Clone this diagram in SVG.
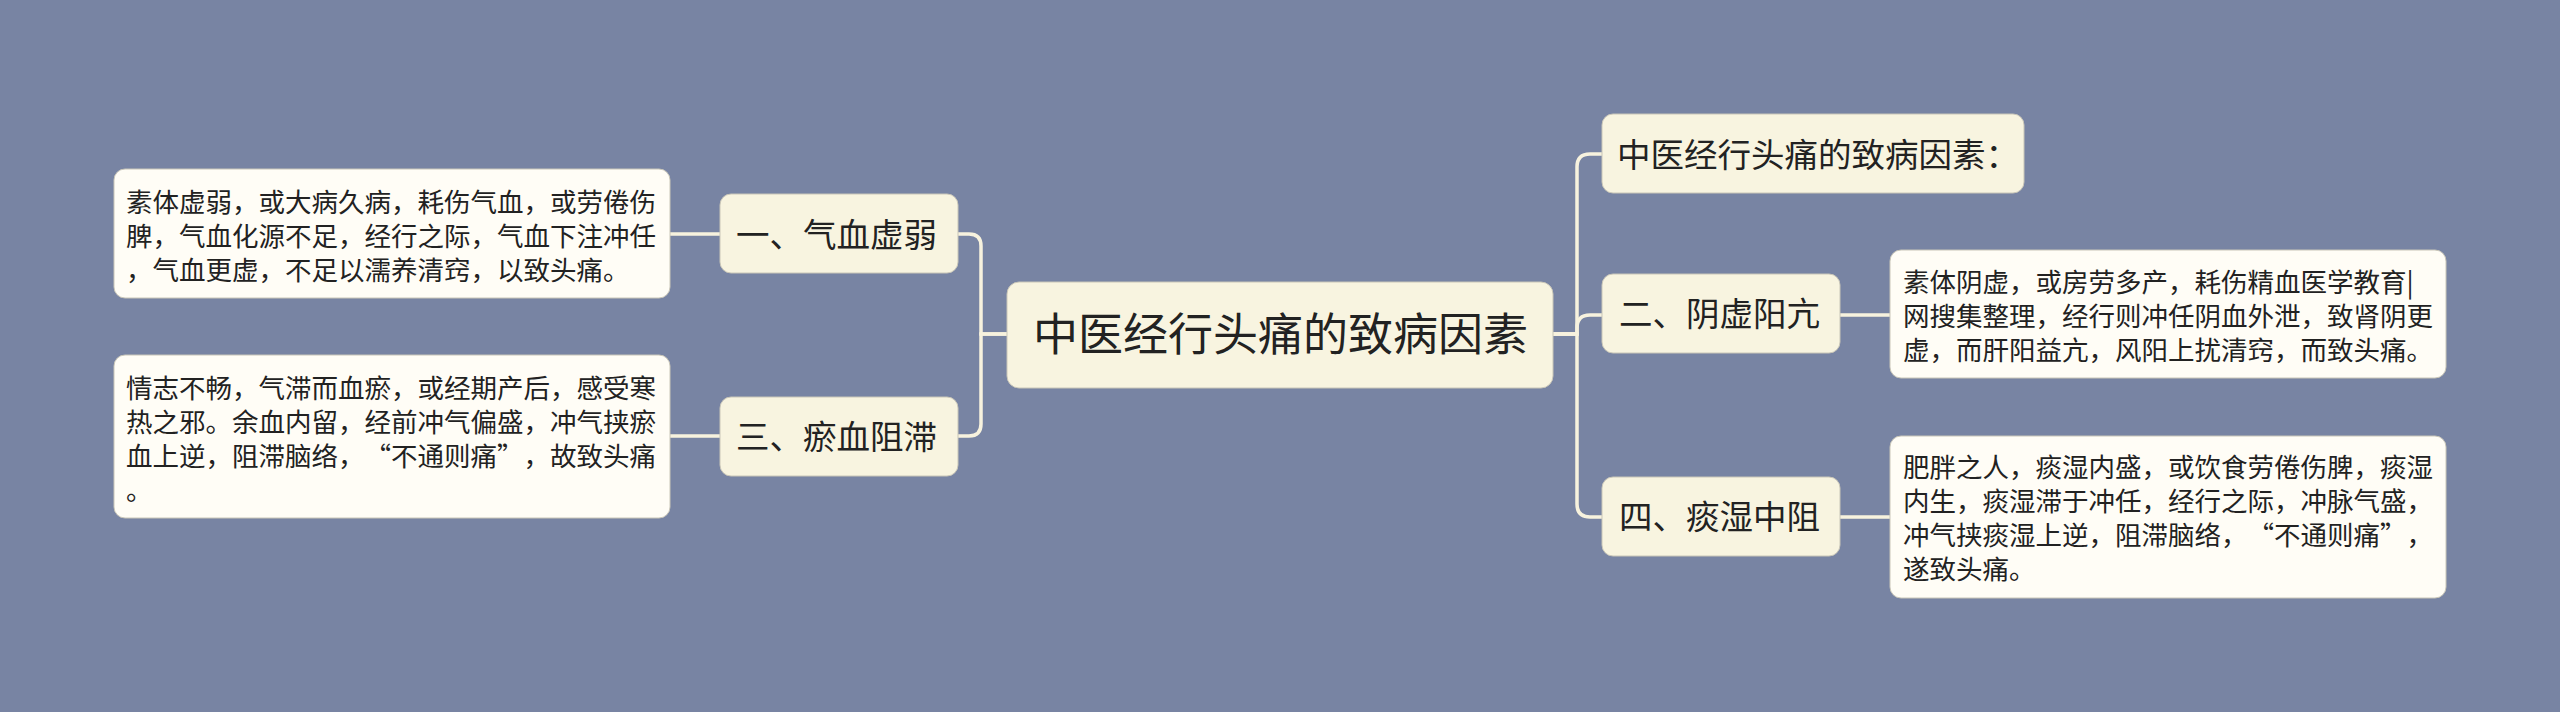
<svg xmlns="http://www.w3.org/2000/svg" width="2560" height="712" viewBox="0 0 2560 712">
<style>
.bg{fill:#7884a3}
.node{fill:#f8f4e0;stroke:#c9c6b8;stroke-width:1}
.leaf{fill:#fffdf6;stroke:#c9c6b8;stroke-width:1}
.conn{fill:none;stroke:#f7f2de;stroke-width:3.5;stroke-linecap:round}
text{font-family:"Noto Sans CJK SC","Noto Sans",sans-serif;fill:#222222}
.t-root{font-size:45px}
.t-main{font-size:33.5px}
.t-leaf{font-size:26.5px}
</style>
<rect class="bg" x="0" y="0" width="2560" height="712"/>
<g id="connectors">
<path class="conn" d="M1007 334 H981 V246 Q981 234 969 234 H958"/>
<path class="conn" d="M1007 334 H981 V424 Q981 436 969 436 H958"/>
<path class="conn" d="M670 234 H720"/>
<path class="conn" d="M670 436 H720"/>
<path class="conn" d="M1553 334 H1577 V167 Q1577 154 1590 154 H1602"/>
<path class="conn" d="M1553 334 H1577 V328 Q1577 315 1590 315 H1602"/>
<path class="conn" d="M1553 334 H1577 V504 Q1577 517 1590 517 H1602"/>
<path class="conn" d="M1840 315 H1890"/>
<path class="conn" d="M1840 517 H1890"/>
</g>
<g id="root">
<rect class="node" x="1007" y="282" width="546" height="106" rx="12"/>
<text class="t-root" x="1033" y="351">中医经行头痛的致病因素</text>
</g>
<g id="n1">
<rect class="node" x="720" y="194" width="238" height="79" rx="11"/>
<text class="t-main" x="736" y="247">一、气血虚弱</text>
</g>
<g id="n1-leaf">
<rect class="leaf" x="114" y="169" width="556" height="129" rx="11"/>
<text class="t-leaf" x="126" y="212">素体虚弱，或大病久病，耗伤气血，或劳倦伤</text>
<text class="t-leaf" x="126" y="246">脾，气血化源不足，经行之际，气血下注冲任</text>
<text class="t-leaf" x="126" y="280">，气血更虚，不足以濡养清窍，以致头痛。</text>
</g>
<g id="n3">
<rect class="node" x="720" y="397" width="238" height="79" rx="11"/>
<text class="t-main" x="736" y="449">三、瘀血阻滞</text>
</g>
<g id="n3-leaf">
<rect class="leaf" x="114" y="355" width="556" height="163" rx="11"/>
<text class="t-leaf" x="126" y="398">情志不畅，气滞而血瘀，或经期产后，感受寒</text>
<text class="t-leaf" x="126" y="432">热之邪。余血内留，经前冲气偏盛，冲气挟瘀</text>
<text class="t-leaf" x="126" y="466">血上逆，阻滞脑络，<tspan x="364.5">“</tspan><tspan x="391">不通则痛</tspan><tspan x="497">”</tspan><tspan x="523.5">，故致头痛</tspan></text>
<text class="t-leaf" x="126" y="500">。</text>
</g>
<g id="n0">
<rect class="node" x="1602" y="114" width="422" height="79" rx="11"/>
<text class="t-main" x="1617" y="167">中医经行头痛的致病因素：</text>
</g>
<g id="n2">
<rect class="node" x="1602" y="274" width="238" height="79" rx="11"/>
<text class="t-main" x="1619" y="326">二、阴虚阳亢</text>
</g>
<g id="n2-leaf">
<rect class="leaf" x="1890" y="250" width="556" height="128" rx="11"/>
<text class="t-leaf" x="1903" y="292">素体阴虚，或房劳多产，耗伤精血医学教育|</text>
<text class="t-leaf" x="1903" y="326">网搜集整理，经行则冲任阴血外泄，致肾阴更</text>
<text class="t-leaf" x="1903" y="360">虚，而肝阳益亢，风阳上扰清窍，而致头痛。</text>
</g>
<g id="n4">
<rect class="node" x="1602" y="477" width="238" height="79" rx="11"/>
<text class="t-main" x="1619" y="529">四、痰湿中阻</text>
</g>
<g id="n4-leaf">
<rect class="leaf" x="1890" y="436" width="556" height="162" rx="11"/>
<text class="t-leaf" x="1903" y="477">肥胖之人，痰湿内盛，或饮食劳倦伤脾，痰湿</text>
<text class="t-leaf" x="1903" y="511">内生，痰湿滞于冲任，经行之际，冲脉气盛，</text>
<text class="t-leaf" x="1903" y="545">冲气挟痰湿上逆，阻滞脑络，<tspan x="2247.5">“</tspan><tspan x="2274">不通则痛</tspan><tspan x="2380">”</tspan><tspan x="2406.5">，</tspan></text>
<text class="t-leaf" x="1903" y="579">遂致头痛。</text>
</g>
</svg>
